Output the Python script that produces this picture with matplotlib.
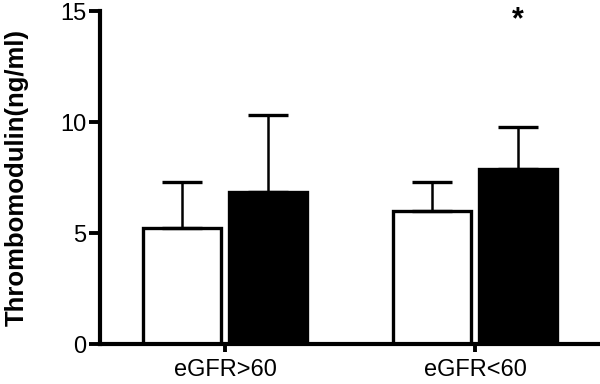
import numpy as np
import matplotlib.pyplot as plt

plt.rcParams['font.family'] = ['Liberation Sans', 'DejaVu Sans']

groups = ['eGFR>60', 'eGFR<60']
white_mean = [5.22, 6.0]
white_err = [2.08, 1.3]
black_mean = [6.85, 7.88]
black_err = [3.45, 1.92]

x = np.arange(len(groups))
w = 0.31
off = 0.172

fig = plt.figure(figsize=(6, 3.84), dpi=100)
ax = fig.add_axes([0.1667, 0.104, 0.8333, 0.867])

ax.bar(x - off, white_mean, w, color='white', edgecolor='black', linewidth=2.4, zorder=2)
ax.bar(x + off, black_mean, w, color='black', edgecolor='black', linewidth=2.4, zorder=2)
ax.errorbar(x - off, white_mean, yerr=[np.zeros(2), white_err], fmt='none',
            ecolor='black', elinewidth=1.8, capsize=14.5, capthick=2.4, zorder=3)
ax.errorbar(x + off, black_mean, yerr=[np.zeros(2), black_err], fmt='none',
            ecolor='black', elinewidth=1.8, capsize=14.5, capthick=2.4, zorder=1)

# significance mark
ax.text(x[1] + off, 14.6, '*', ha='center', va='center', fontsize=22, fontweight='bold')

ax.set_xlim(-0.5, 1.5)
ax.set_ylim(0, 15)
ax.set_yticks([0, 5, 10, 15])
ax.set_xticks(x)
ax.set_xticklabels(groups, fontsize=17)
ax.tick_params(axis='y', labelsize=17, width=2.8, length=8, pad=2)
ax.tick_params(axis='x', width=2.8, length=6, pad=5)
ax.set_ylabel('Thrombomodulin(ng/ml)', fontsize=18.5, fontweight='bold')
ax.yaxis.set_label_coords(-0.142, 0.5)

for s in ['top', 'right']:
    ax.spines[s].set_visible(False)
for s in ['left', 'bottom']:
    ax.spines[s].set_linewidth(3)
ax.spines['left'].set_zorder(4)
ax.spines['bottom'].set_zorder(4)

fig.savefig('out.png', dpi=100)
